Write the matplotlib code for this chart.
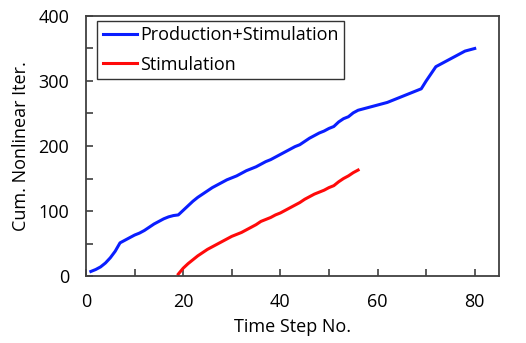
import matplotlib
matplotlib.use("Agg")
import matplotlib.pyplot as plt

plt.rcParams['font.family'] = ['Open Sans', 'DejaVu Sans']

# Production+Stimulation run
steps_ps = list(range(1, 81))
iters_ps = [7, 10, 14, 20, 28, 38, 51, 55, 59, 63,
            66, 70, 75, 80, 84, 88, 91, 93, 94, 101,
            108, 115, 121, 126, 131, 136, 140, 144, 148, 151,
            154, 158, 162, 165, 168, 172, 176, 179, 183, 187,
            191, 195, 199, 202, 207, 212, 216, 220, 223, 227,
            230, 237, 242, 245, 251, 255, 257, 259, 261, 263,
            265, 267, 270, 273, 276, 279, 282, 285, 288, 300,
            311, 322, 326, 330, 334, 338, 342, 346, 348, 350]

# Stimulation only run
steps_s = list(range(19, 57))
iters_s = [3, 12, 19, 25, 31, 36, 41, 45, 49, 53,
           57, 61, 64, 67, 71, 75, 79, 84, 87, 90,
           94, 97, 101, 105, 109, 113, 118, 122, 126, 129,
           132, 136, 139, 145, 150, 154, 159, 163]

fig = plt.figure(figsize=(5.26, 3.43), dpi=100)
ax = fig.add_axes([0.1635, 0.1953, 0.7852, 0.7581])

ax.plot(steps_ps, iters_ps, color='#0a1eff', lw=2.2, label='Production+Stimulation')
ax.plot(steps_s, iters_s, color='#ff0a0a', lw=2.2, label='Stimulation')

ax.set_xlim(0, 85)
ax.set_ylim(0, 400)
ax.set_xticks([0, 20, 40, 60, 80])
ax.set_xticks([10, 30, 50, 70], minor=True)
ax.set_yticks([0, 100, 200, 300, 400])
ax.set_yticks([50, 150, 250, 350], minor=True)
ax.tick_params(which='both', direction='in', color='#404040', width=1.2,
               labelsize=13, pad=12, length=5)
for s in ax.spines.values():
    s.set_color('#404040')
    s.set_linewidth(1.3)

ax.set_xlabel('Time Step No.', fontsize=13, labelpad=5)
ax.set_ylabel('Cum. Nonlinear Iter.', fontsize=13, labelpad=6)

leg = ax.legend(loc='upper left', bbox_to_anchor=(0.027, 0.981), borderaxespad=0,
                fontsize=13, frameon=True, fancybox=False, edgecolor='black',
                handlelength=1.9, handletextpad=0.2, labelspacing=0.62,
                borderpad=0.3)
leg.get_frame().set_linewidth(1.0)

fig.savefig('out.png', dpi=100)
